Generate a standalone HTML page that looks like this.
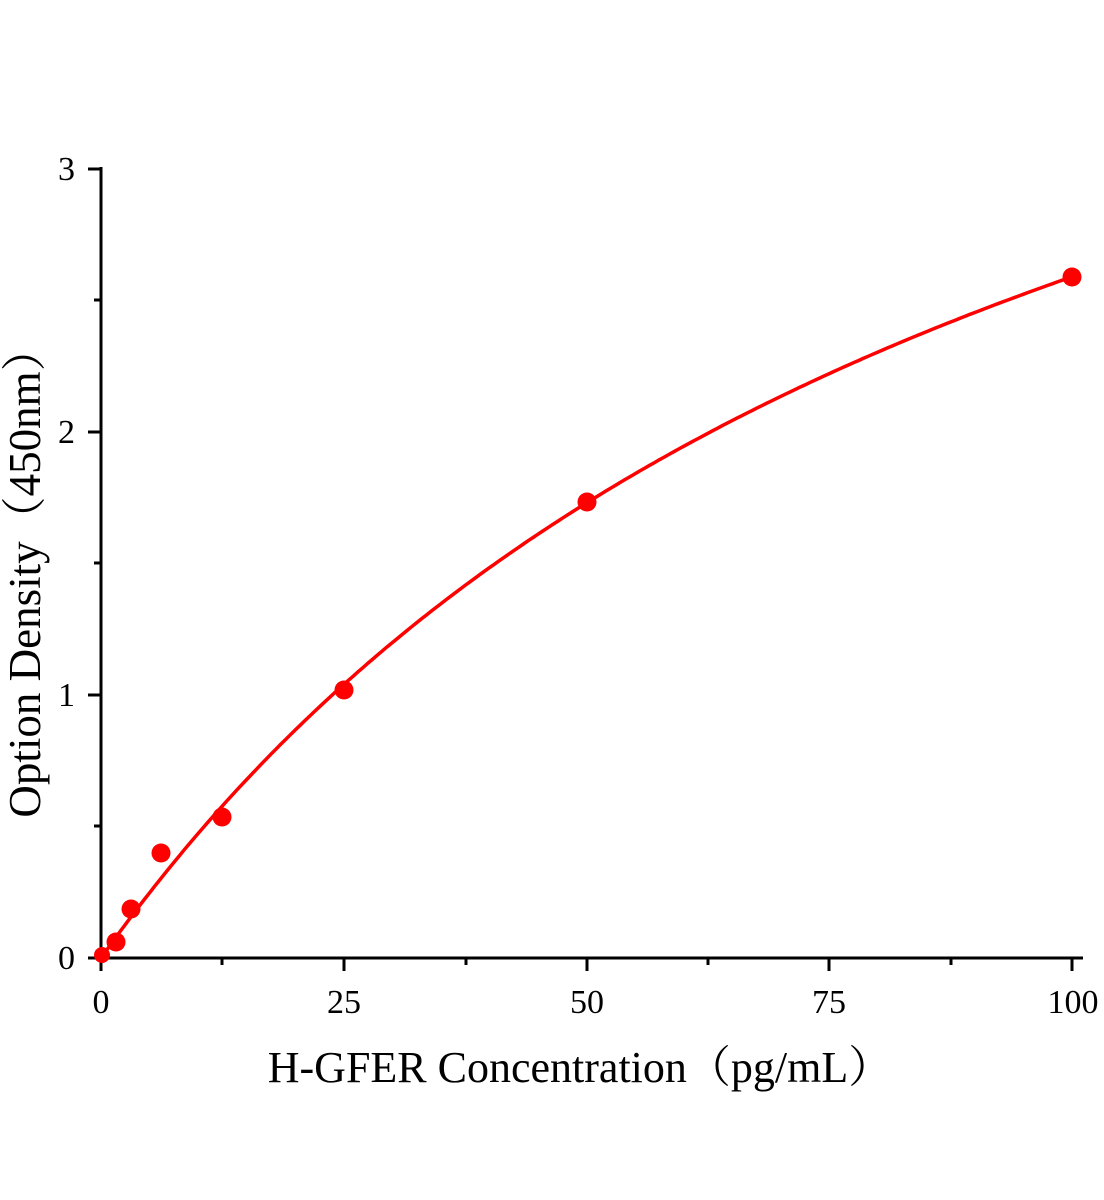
<!DOCTYPE html>
<html><head><style>body{margin:0;background:#fff}svg{display:block}</style></head><body>
<svg width="1104" height="1200" xmlns="http://www.w3.org/2000/svg" font-family="Liberation Serif, serif">
<g stroke="#000" stroke-width="3" fill="none">
<line x1="101" y1="167" x2="101" y2="959"/>
<line x1="100" y1="958" x2="1083" y2="958"/>
<line x1="88" y1="169" x2="101" y2="169"/>
<line x1="88" y1="432" x2="101" y2="432"/>
<line x1="88" y1="695" x2="101" y2="695"/>
<line x1="88" y1="958" x2="101" y2="958"/>
<line x1="94" y1="300" x2="101" y2="300"/>
<line x1="94" y1="563" x2="101" y2="563"/>
<line x1="94" y1="826" x2="101" y2="826"/>
<line x1="101" y1="958" x2="101" y2="971"/>
<line x1="344" y1="958" x2="344" y2="971"/>
<line x1="587" y1="958" x2="587" y2="971"/>
<line x1="829" y1="958" x2="829" y2="971"/>
<line x1="1072" y1="958" x2="1072" y2="971"/>
<line x1="222" y1="958" x2="222" y2="965"/>
<line x1="466" y1="958" x2="466" y2="965"/>
<line x1="708" y1="958" x2="708" y2="965"/>
<line x1="951" y1="958" x2="951" y2="965"/>
</g>
<g font-size="34" fill="#000">
<text x="75" y="180" text-anchor="end">3</text>
<text x="75" y="443" text-anchor="end">2</text>
<text x="75" y="706" text-anchor="end">1</text>
<text x="75" y="969" text-anchor="end">0</text>
<text x="101" y="1013" text-anchor="middle">0</text>
<text x="344" y="1013" text-anchor="middle">25</text>
<text x="587" y="1013" text-anchor="middle">50</text>
<text x="829" y="1013" text-anchor="middle">75</text>
<text x="1073" y="1013" text-anchor="middle">100</text>
</g>
<text x="580" y="1082" font-size="44" text-anchor="middle" font-family="Liberation Serif, Noto Serif CJK SC, serif">H-GFER Concentration（pg/mL）</text>
<text transform="translate(40,572) rotate(-90)" font-size="45" text-anchor="middle" font-family="Liberation Serif, Noto Serif CJK SC, serif">Option Density（450nm）</text>
<path id="c" fill="none" stroke="#f00" stroke-width="3.5"/>
<g fill="#f00">
<circle cx="102" cy="955" r="8"/>
<circle cx="116" cy="942" r="9.5"/>
<circle cx="131" cy="909" r="9.5"/>
<circle cx="161" cy="853" r="9.5"/>
<circle cx="222" cy="817" r="9.5"/>
<circle cx="344" cy="690" r="9.5"/>
<circle cx="587" cy="502" r="9.5"/>
<circle cx="1072" cy="277" r="9.5"/>
</g>
<script>
var d="";for(var i=0;i<=200;i++){var x=i/2;var y=5.149*x/(98.8+x);d+=(i?"L":"M")+(101+x*9.71).toFixed(1)+","+(958-y*263).toFixed(1);}
document.getElementById("c").setAttribute("d",d);
</script>
</svg>
</body></html>
